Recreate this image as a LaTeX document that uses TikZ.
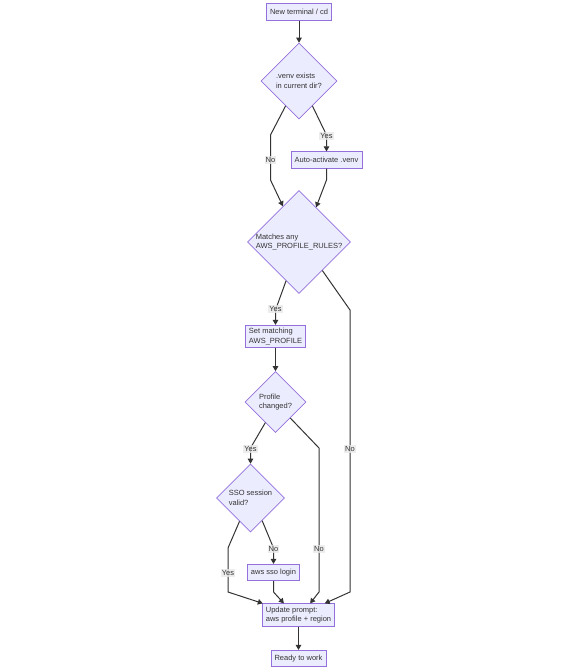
\documentclass[tikz,border=0pt]{standalone}
\usepackage{fontspec}
\setmainfont{Liberation Sans}
\usetikzlibrary{arrows.meta,shapes.geometric,calc}
\definecolor{nodefill}{HTML}{ECECFF}
\definecolor{nodeline}{HTML}{9370DB}
\definecolor{ink}{HTML}{333333}
\definecolor{lblfill}{HTML}{E8E8E8}

\begin{document}
\begin{tikzpicture}[x=1pt, y=-1pt, font=\fontsize{7.5}{9.6}\selectfont, text=ink,
  box/.style={rectangle, draw=nodeline, fill=nodefill, line width=0.6pt,
    inner xsep=3.5pt, inner ysep=3pt, minimum height=16.5pt, align=left},
  dia/.style={diamond, aspect=1, draw=nodeline, fill=nodefill, line width=0.6pt,
    inner sep=0pt, align=left},
  lbl/.style={fill=lblfill, fill opacity=0.8, text opacity=1, inner sep=1pt},
  edge/.style={draw=ink, line width=1pt, ->}, >={Triangle[length=5pt,width=5.5pt]}]
  \useasboundingbox (0,0) rectangle (580,670);
  \node[box] (start) at (299,12) {New terminal / cd};
  \node[dia, minimum size=76pt] (venv) at (299,81) {.venv exists\\in current dir?};
  \node[box] (act) at (326.5,160) {Auto-activate .venv};
  \node[dia, minimum size=102pt] (rules) at (299,242) {Matches any\\AWS\_PROFILE\_RULES?};
  \node[box] (set) at (275.5,336.5) {Set matching\\AWS\_PROFILE};
  \node[dia, minimum size=61pt] (chg) at (275.5,402) {Profile\\changed?};
  \node[dia, minimum size=68pt] (sso) at (250.5,498) {SSO session\\valid?};
  \node[box] (login) at (273.5,572.5) {aws sso login};
  \node[box] (prompt) at (298.5,615) {Update prompt:\\aws profile + region};
  \node[box] (ready) at (298.5,658.5) {Ready to work};

  \draw[edge] (start) -- (venv);
  \draw[edge] ($(venv.west)!.65!(venv.south)$) -- (270.5,135) -- (270.5,180)
    -- ($(rules.north)!.31!(rules.west)$);
  \draw[edge] ($(venv.east)!.65!(venv.south)$) -- (326.5,135) -- (act);
  \draw[edge] (act.south) -- (326.5,180) -- ($(rules.north)!.33!(rules.east)$);
  \draw[edge] ($(rules.west)!.75!(rules.south)$) -- (275.5,310) -- (set);
  \draw[edge] ($(rules.east)!.55!(rules.south)$) -- (350,310) -- (350,592)
    -- ($(prompt.north west)!.86!(prompt.north east)$);
  \draw[edge] (set) -- (chg);
  \draw[edge] ($(chg.west)!.67!(chg.south)$) -- (250.5,448) -- (sso);
  \draw[edge] ($(chg.east)!.52!(chg.south)$) -- (319,448) -- (319,592)
    -- ($(prompt.north west)!.66!(prompt.north east)$);
  \draw[edge] ($(sso.west)!.68!(sso.south)$) -- (228,548) -- (228,592)
    -- ($(prompt.north west)!.01!(prompt.north east)$);
  \draw[edge] ($(sso.east)!.66!(sso.south)$) -- (273.5,548) -- (login);
  \draw[edge] (login.south) -- (273.5,592) -- ($(prompt.north west)!.3!(prompt.north east)$);
  \draw[edge] (prompt) -- (ready);

  \node[lbl] (no1) at (270.5,160) {No};
  \node[lbl] (yes1) at (326.5,136) {Yes};
  \node[lbl] (yes2) at (275.5,309) {Yes};
  \node[lbl] (no2) at (350,449) {No};
  \node[lbl] (yes3) at (250.5,449) {Yes};
  \node[lbl] (no3) at (319,549) {No};
  \node[lbl] (yes4) at (228,573) {Yes};
  \node[lbl] (no4) at (273.5,549) {No};
\end{tikzpicture}
\end{document}
